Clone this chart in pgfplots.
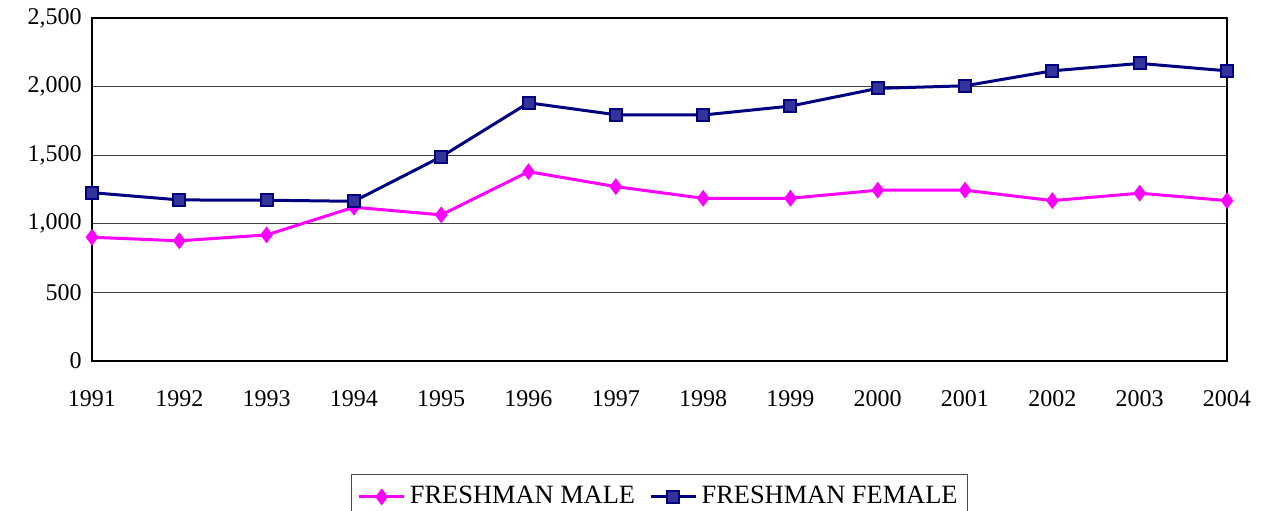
\documentclass[border=0pt]{standalone}
\usepackage{fontspec}
\setmainfont{Liberation Serif}
\usepackage{pgfplots}
\pgfplotsset{compat=1.18}
\definecolor{male}{HTML}{FF00FF}
\definecolor{femline}{HTML}{000080}
\definecolor{femfill}{HTML}{333399}
\begin{document}
\fontsize{12}{14}\selectfont
\begin{tikzpicture}
\begin{axis}[
  at={(0,0)}, anchor=south west,
  scale only axis, width=567.5pt, height=171.5pt,
  xmin=1991, xmax=2004, ymin=0, ymax=2500,
  xtick={1991,...,2004},
  ytick={0,500,...,2500},
  xticklabel style={/pgf/number format/1000 sep={}, yshift=-10.5pt},
  yticklabel style={/pgf/number format/1000 sep={,}, xshift=-1pt},
  /pgf/number format/assume math mode=true,
  major tick length=0pt,
  ymajorgrids, grid style={black!75, line width=0.5pt},
  axis line style={black, line width=1pt},
  tick label style={font=\fontsize{12}{14}\selectfont},
  clip=false,
  legend style={at={(0.5,-0.329)}, anchor=north, draw=black!70, line width=0.5pt,
    font=\fontsize{13.2}{15}\selectfont, legend columns=2,
    inner xsep=3pt, inner ysep=4pt,
    /tikz/every even column/.append style={column sep=5pt}},
  legend image code/.code={
    \draw[mark repeat=2,mark phase=2] plot coordinates {(0cm,0cm) (0.4cm,0cm) (0.8cm,0cm)};},
]
\addplot[male, line width=1.5pt, mark=diamond*, mark size=3.8pt, mark options={fill=male, draw=male, line width=0.5pt}]
coordinates {(1991,902) (1992,876) (1993,919) (1994,1121) (1995,1065) (1996,1380) (1997,1271) (1998,1186) (1999,1186) (2000,1245) (2001,1245) (2002,1169) (2003,1223) (2004,1169)};
\addlegendentry{FRESHMAN MALE}
\addplot[femline, line width=1.5pt, mark=square*, mark size=3pt, mark options={fill=femfill, draw=femline, line width=1pt}]
coordinates {(1991,1227) (1992,1174) (1993,1172) (1994,1164) (1995,1489) (1996,1882) (1997,1795) (1998,1793) (1999,1858) (2000,1987) (2001,2006) (2002,2115) (2003,2169) (2004,2115)};
\addlegendentry{FRESHMAN FEMALE}
\end{axis}
\pgfresetboundingbox
\useasboundingbox (-46pt,-74.5pt) rectangle (586.5pt,180.5pt);
\end{tikzpicture}
\end{document}
